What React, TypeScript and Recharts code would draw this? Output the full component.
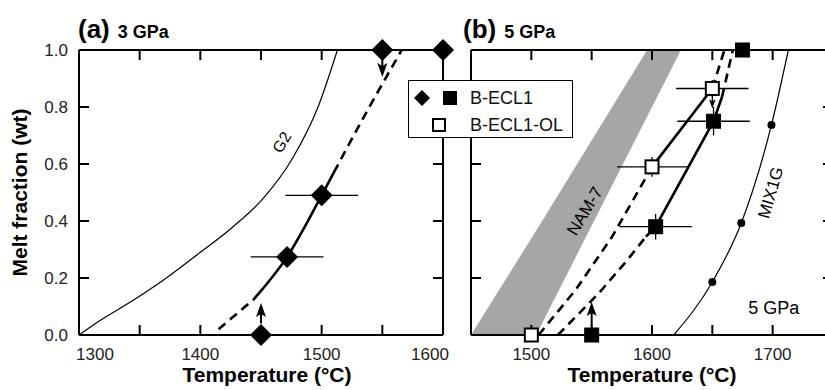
import React from "react";
import { ComposedChart, Line, Scatter, Area, XAxis, YAxis, ErrorBar, ReferenceDot, ReferenceLine, Label } from "recharts";

// axis ticks
const ticksA = [1300, 1350, 1400, 1450, 1500, 1550, 1600];
const ticksB = [1450, 1500, 1550, 1600, 1650, 1700, 1750];
const ticksY = [0, 0.2, 0.4, 0.6, 0.8, 1.0];

// (a) 3 GPa
const g2Curve = [
    { t: 1300, f: 0 }, { t: 1317, f: 0.05 }, { t: 1344, f: 0.12 }, { t: 1372, f: 0.2 },
    { t: 1400, f: 0.29 }, { t: 1427, f: 0.38 }, { t: 1452, f: 0.48 }, { t: 1476, f: 0.62 },
    { t: 1497, f: 0.8 }, { t: 1513, f: 1.0 },
];
const aDashLow = [{ t: 1415, f: 0.02 }, { t: 1444, f: 0.125 }];
const aSolid = [{ t: 1444, f: 0.125 }, { t: 1471.5, f: 0.274 }, { t: 1500, f: 0.49 }, { t: 1510, f: 0.57 }];
const aDashHigh = [{ t: 1510, f: 0.57 }, { t: 1538, f: 0.79 }, { t: 1566, f: 1.0 }];
const aDiamondsErr = [{ t: 1471.5, f: 0.274, ex: 30 }, { t: 1500, f: 0.49, ex: 30 }];
const aDiamonds = [{ t: 1450, f: 0 }, { t: 1550, f: 1.0 }, { t: 1600, f: 1.0 }];
const aArrowUp = [{ t: 1450, f: 0.04 }, { t: 1450, f: 0.1 }];
const aArrowUpHead = [{ t: 1450, f: 0.112 }];
const aArrowDown = [{ t: 1550, f: 0.97 }, { t: 1550, f: 0.92 }];
const aArrowDownHead = [{ t: 1550, f: 0.905 }];

// (b) 5 GPa
const nam7Band = [
    { t: 1450, band: [0, 0] }, { t: 1504, band: [0, 0.366] },
    { t: 1596, band: [0.767, 1] }, { t: 1624, band: [1, 1] },
];
const mix1gCurve = [{ t: 1618, f: 0 }, { t: 1650, f: 0.186 }, { t: 1674, f: 0.393 }, { t: 1699, f: 0.737 }, { t: 1713, f: 1.0 }];
const mix1gDots = [{ t: 1650, f: 0.186 }, { t: 1674, f: 0.393 }, { t: 1699, f: 0.737 }];
const olDashLow = [{ t: 1506, f: 0 }, { t: 1537, f: 0.16 }, { t: 1567, f: 0.345 }, { t: 1600, f: 0.59 }];
const olSolid = [{ t: 1600, f: 0.59 }, { t: 1650, f: 0.865 }];
const olDashHigh = [{ t: 1650, f: 0.865 }, { t: 1660, f: 1.0 }];
const eclDashLow = [{ t: 1522, f: 0 }, { t: 1556, f: 0.147 }, { t: 1579, f: 0.26 }, { t: 1595, f: 0.345 }];
const eclSolid = [{ t: 1595, f: 0.345 }, { t: 1603, f: 0.38 }, { t: 1651, f: 0.75 }, { t: 1658, f: 0.835 }];
const eclDashHigh = [{ t: 1658, f: 0.835 }, { t: 1667, f: 1.0 }];
const olSquares = [{ t: 1500, f: 0, ex: 0, ey: 0 }, { t: 1600, f: 0.59, ex: 29, ey: 0.035 }, { t: 1650, f: 0.865, ex: 30, ey: 0.03 }];
const eclSquares = [{ t: 1550, f: 0, ex: 0, ey: 0 }, { t: 1603, f: 0.38, ex: 30, ey: 0.045 }, { t: 1651, f: 0.75, ex: 30, ey: 0.05 }, { t: 1675, f: 1.0, ex: 0, ey: 0 }];
const bArrowUp = [{ t: 1550, f: 0.03 }, { t: 1550, f: 0.1 }];
const bArrowUpHead = [{ t: 1550, f: 0.116 }];
const bArrowDown = [{ t: 1650, f: 0.84 }, { t: 1650, f: 0.805 }];
const bArrowDownHead = [{ t: 1650, f: 0.795 }];

const axisLine = { stroke: "#000", strokeWidth: 2 };
const TICK_COLOR = "#222";
const TICK_PX = 10;

const Diamond = (p: any) => {
    const { cx, cy } = p;
    const r = 11;
    return <polygon points={`${cx},${cy - r} ${cx + r},${cy} ${cx},${cy + r} ${cx - r},${cy}`} fill="#000" />;
};
const FilledSquare = (p: any) => <rect x={p.cx - 7.5} y={p.cy - 7.5} width={15} height={15} fill="#000" />;
const OpenSquare = (p: any) => <rect x={p.cx - 6.5} y={p.cy - 6.5} width={13} height={13} fill="#fff" stroke="#000" strokeWidth={2} />;
const SmallDot = (p: any) => <circle cx={p.cx} cy={p.cy} r={4} fill="#000" />;
const HeadUp = (p: any) => {
    const { cx, cy } = p;
    return <polygon points={`${cx},${cy} ${cx + 5},${cy + 14} ${cx},${cy + 11} ${cx - 5},${cy + 14}`} fill="#000" />;
};
const HeadDown = (size: number) => (p: any) => {
    const { cx, cy } = p;
    const w = size * 0.36;
    return <polygon points={`${cx},${cy} ${cx + w},${cy - size} ${cx},${cy - size * 0.8} ${cx - w},${cy - size}`} fill="#000" />;
};

// a reference line at each tick value, drawn only as two short inward stubs at its ends
const VerticalStubs = (p: any) => {
    const x = p.x1;
    const top = Math.min(p.y1, p.y2);
    const bot = Math.max(p.y1, p.y2);
    return <path d={`M${x},${top}v${TICK_PX}M${x},${bot}v${-TICK_PX}`} stroke="#000" strokeWidth={2} fill="none" />;
};
const HorizontalStubs = (p: any) => {
    const y = p.y1;
    const left = Math.min(p.x1, p.x2);
    const right = Math.max(p.x1, p.x2);
    return <path d={`M${left},${y}h${TICK_PX}M${right},${y}h${-TICK_PX}`} stroke="#000" strokeWidth={2} fill="none" />;
};

const frame = (xTicks: number[], xMax: number) => [
    <ReferenceLine key="top" xAxisId="b" yAxisId="l" y={1} stroke="#000" strokeWidth={2} />,
    <ReferenceLine key="right" xAxisId="b" yAxisId="l" x={xMax} stroke="#000" strokeWidth={2} />,
    ...xTicks.map((t) => (
        <ReferenceLine key={`x${t}`} xAxisId="b" yAxisId="l" x={t} stroke="#000" shape={VerticalStubs} />
    )),
    ...ticksY.map((f) => (
        <ReferenceLine key={`y${f}`} xAxisId="b" yAxisId="l" y={f} stroke="#000" shape={HorizontalStubs} />
    )),
];

const bottomTick = (shift: Record<number, number>, skip: number[]) => (props: any) => {
    const { x, y, payload } = props;
    const v = payload.value;
    if (v % 100 !== 0 || skip.includes(v)) return <text />;
    return (
        <text x={x + (shift[v] || 0)} y={y} dy="0.71em" textAnchor="middle" fontSize={17} fill={TICK_COLOR}>
            {v}
        </text>
    );
};
const leftTick = (props: any) => (
    <text x={props.x} y={props.y} dy="0.36em" textAnchor="end" fontSize={17} fill={TICK_COLOR}>
        {props.payload.value.toFixed(1)}
    </text>
);

const rotatedText = (text: string, angle: number, size = 17) => (p: any) => (
    <text
        x={p.cx}
        y={p.cy}
        transform={`rotate(${angle} ${p.cx} ${p.cy})`}
        textAnchor="middle"
        dy="0.36em"
        fontSize={size}
        fill="#000"
    >
        {text}
    </text>
);

const lineProps = { isAnimationActive: false, dot: false, activeDot: false, stroke: "#000", xAxisId: "b", yAxisId: "l", type: "monotone" as const };
const BOLD = 2.6;
const DASH = "9 6";

const PanelA = () => (
    <ComposedChart width={470} height={390} margin={{ top: 50, right: 27, bottom: 0, left: 0 }}>
        <XAxis xAxisId="b" type="number" dataKey="t" domain={[1300, 1600]} ticks={ticksA} interval={0}
            height={55} tickSize={0} tickMargin={13} axisLine={axisLine} tickLine={false}
            tick={bottomTick({ 1300: 16, 1600: -13 }, [])}>
            <Label value="Temperature (°C)" position="insideBottom" offset={8} dx={6} fill="#000" fontSize={21} fontWeight="bold" />
        </XAxis>
        <YAxis yAxisId="l" type="number" dataKey="f" domain={[0, 1]} ticks={ticksY} interval={0}
            width={79} tickSize={0} tickMargin={11} axisLine={axisLine} tickLine={false} tick={leftTick}>
            <Label content={(p: any) => {
                const vb = p.viewBox;
                const cy = vb.y + vb.height / 2;
                return (
                    <text x={27} y={cy} transform={`rotate(-90 27 ${cy})`} textAnchor="middle" fontSize={21} fontWeight="bold" fill="#000">
                        Melt fraction (wt)
                    </text>
                );
            }} />
        </YAxis>
        {frame(ticksA, 1600)}

        <Line {...lineProps} data={g2Curve} dataKey="f" strokeWidth={1.2} />
        <Line {...lineProps} data={aDashLow} dataKey="f" strokeWidth={BOLD} strokeDasharray={DASH} />
        <Line {...lineProps} data={aSolid} dataKey="f" strokeWidth={BOLD} />
        <Line {...lineProps} data={aDashHigh} dataKey="f" strokeWidth={BOLD} strokeDasharray={DASH} />
        <Line {...lineProps} type="linear" data={aArrowUp} dataKey="f" strokeWidth={2} />
        <Line {...lineProps} type="linear" data={aArrowDown} dataKey="f" strokeWidth={2} />

        <Scatter xAxisId="b" yAxisId="l" data={aDiamondsErr} dataKey="f" shape={Diamond} isAnimationActive={false}>
            <ErrorBar dataKey="ex" direction="x" width={0} stroke="#000" strokeWidth={1.3} />
        </Scatter>
        <Scatter xAxisId="b" yAxisId="l" data={aDiamonds} dataKey="f" shape={Diamond} isAnimationActive={false} />
        <Scatter xAxisId="b" yAxisId="l" data={aArrowUpHead} dataKey="f" shape={HeadUp} isAnimationActive={false} />
        <Scatter xAxisId="b" yAxisId="l" data={aArrowDownHead} dataKey="f" shape={HeadDown(14)} isAnimationActive={false} />

        <ReferenceDot xAxisId="b" yAxisId="l" x={1467} y={0.677} r={0} shape={rotatedText("G2", -60, 16)} />
    </ComposedChart>
);

const PanelB = () => (
    <ComposedChart width={400} height={390} margin={{ top: 50, right: 18, bottom: 0, left: 0 }}>
        <XAxis xAxisId="b" type="number" dataKey="t" domain={[1450, 1750]} ticks={ticksB} interval={0}
            height={55} tickSize={0} tickMargin={13} axisLine={axisLine} tickLine={false}
            tick={bottomTick({}, [1450, 1750])}>
            <Label value="Temperature (°C)" position="insideBottom" offset={8} fill="#000" fontSize={21} fontWeight="bold" />
        </XAxis>
        <YAxis yAxisId="l" type="number" dataKey="f" domain={[0, 1]} ticks={ticksY} interval={0}
            width={20} tickSize={0} axisLine={axisLine} tickLine={false} tick={false} />

        <Area xAxisId="b" yAxisId="l" type="linear" data={nam7Band} dataKey="band" stroke="none" fill="#a6a6a6" fillOpacity={1} isAnimationActive={false} />
        {frame(ticksB, 1750)}
        <ReferenceDot xAxisId="b" yAxisId="l" x={1544} y={0.435} r={0} shape={rotatedText("NAM-7", -59, 17)} />

        <Line {...lineProps} data={mix1gCurve} dataKey="f" strokeWidth={1.2} />
        <Scatter xAxisId="b" yAxisId="l" data={mix1gDots} dataKey="f" shape={SmallDot} isAnimationActive={false} />
        <ReferenceDot xAxisId="b" yAxisId="l" x={1698} y={0.5} r={0} shape={rotatedText("MIX1G", -74, 17)} />
        <ReferenceDot xAxisId="b" yAxisId="l" x={1701} y={0.098} r={0} shape={rotatedText("5 GPa", 0, 18)} />

        <Line {...lineProps} type="linear" data={olDashLow} dataKey="f" strokeWidth={BOLD} strokeDasharray={DASH} />
        <Line {...lineProps} type="linear" data={olSolid} dataKey="f" strokeWidth={BOLD} />
        <Line {...lineProps} type="linear" data={olDashHigh} dataKey="f" strokeWidth={BOLD} strokeDasharray={DASH} />
        <Line {...lineProps} type="linear" data={eclDashLow} dataKey="f" strokeWidth={BOLD} strokeDasharray={DASH} />
        <Line {...lineProps} type="linear" data={eclSolid} dataKey="f" strokeWidth={BOLD} />
        <Line {...lineProps} type="linear" data={eclDashHigh} dataKey="f" strokeWidth={BOLD} strokeDasharray={DASH} />
        <Line {...lineProps} type="linear" data={bArrowUp} dataKey="f" strokeWidth={2} />
        <Line {...lineProps} type="linear" data={bArrowDown} dataKey="f" strokeWidth={1.3} />

        <Scatter xAxisId="b" yAxisId="l" data={eclSquares} dataKey="f" shape={FilledSquare} isAnimationActive={false}>
            <ErrorBar dataKey="ex" direction="x" width={0} stroke="#000" strokeWidth={1.3} />
            <ErrorBar dataKey="ey" direction="y" width={0} stroke="#000" strokeWidth={1.3} />
        </Scatter>
        <Scatter xAxisId="b" yAxisId="l" data={olSquares} dataKey="f" shape={OpenSquare} isAnimationActive={false}>
            <ErrorBar dataKey="ex" direction="x" width={0} stroke="#000" strokeWidth={1.3} />
            <ErrorBar dataKey="ey" direction="y" width={0} stroke="#000" strokeWidth={1.3} />
        </Scatter>
        <Scatter xAxisId="b" yAxisId="l" data={bArrowUpHead} dataKey="f" shape={HeadUp} isAnimationActive={false} />
        <Scatter xAxisId="b" yAxisId="l" data={bArrowDownHead} dataKey="f" shape={HeadDown(9)} isAnimationActive={false} />
    </ComposedChart>
);

const Title = ({ left, tag, sub }: { left: number; tag: string; sub: string }) => (
    <div style={{ position: "absolute", left, top: 16, display: "flex", alignItems: "baseline", fontWeight: "bold", color: "#000" }}>
        <span style={{ fontSize: 26, lineHeight: 1 }}>{tag}</span>
        <span style={{ fontSize: 18, lineHeight: 1, marginLeft: 8 }}>{sub}</span>
    </div>
);

const LegendBox = () => (
    <div style={{ position: "absolute", left: 408, top: 80, width: 165, height: 58, boxSizing: "border-box", border: "1.5px solid #000", background: "#fff", fontSize: 18, color: "#111" }}>
        <svg width={60} height={56} style={{ position: "absolute", left: 0, top: 0 }}>
            <polygon points="13,9 21,17 13,25 5,17" fill="#000" />
            <rect x={34} y={10} width={14} height={14} fill="#000" />
            <rect x={24} y={38} width={12} height={12} fill="#fff" stroke="#000" strokeWidth={2} />
        </svg>
        <div style={{ position: "absolute", left: 61, top: 7, lineHeight: "20px" }}>B-ECL1</div>
        <div style={{ position: "absolute", left: 61, top: 34, lineHeight: "20px" }}>B-ECL1-OL</div>
    </div>
);

export default function App() {
    return (
        <div style={{ position: "absolute", left: 0, top: 0, width: 825, height: 390, overflow: "hidden", background: "#fff", fontFamily: "'Liberation Sans', Arial, sans-serif" }}>
            <div style={{ position: "absolute", left: 0, top: 0 }}>
                <PanelA />
            </div>
            <div style={{ position: "absolute", left: 451, top: 0 }}>
                <PanelB />
            </div>
            <Title left={78} tag="(a)" sub="3 GPa" />
            <Title left={463} tag="(b)" sub="5 GPa" />
            <LegendBox />
        </div>
    );
}
